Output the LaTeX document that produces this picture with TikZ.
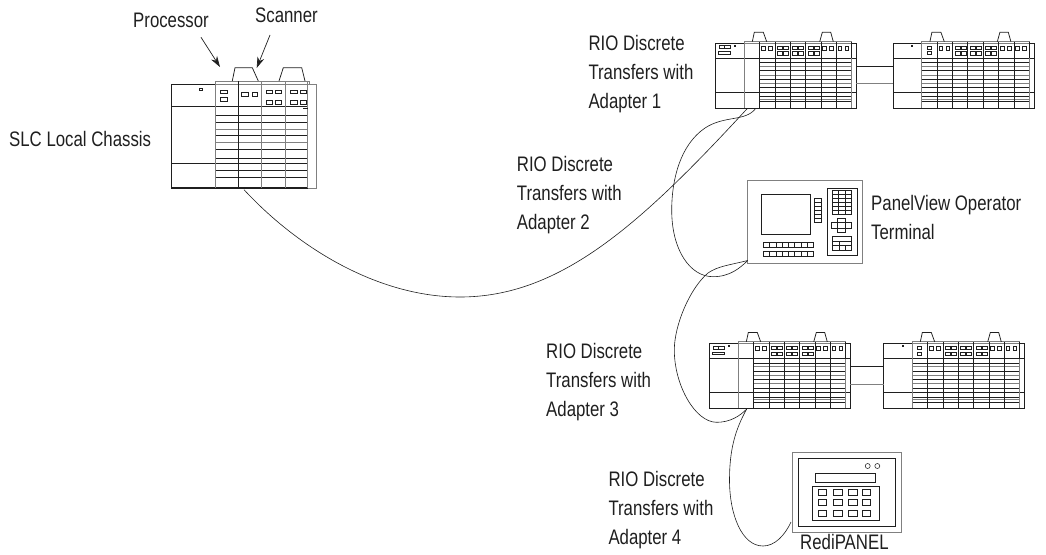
\documentclass[tikz,border=0pt]{standalone}
\usepackage{fontspec}
\setmainfont[FakeStretch=0.8]{Liberation Sans}
\usetikzlibrary{arrows.meta}
\definecolor{ink}{gray}{0.12}
\definecolor{mid}{gray}{0.5}
\newcommand{\plcunit}[3]{% x, y, variant 0 plain / 1 adapter
\begin{scope}[shift={(#1,#2)}]
  \draw[hw] (0,0) rectangle (140.7,64.6);
  \draw[hwg] (28.5,-1.6) rectangle (136,0);
  \draw[hw] (0,15) -- (140.7,15) (0,49) -- (140.7,49);
  \draw[hw] (36.6,-1.6) -- (38.6,-11) -- (47.6,-11) -- (51,-1.6);
  \draw[hw] (104,-1.6) -- (106.6,-11) -- (115,-11) -- (117.6,-1.6);
  \fill[ink] (17.8,1.8) rectangle (19.8,3.6);
  \ifnum#3=1
    \def\hstart{43.85}
    \draw[sq] (3.7,2.4) rectangle (14.3,5.4) (9,2.4) -- (9,5.4);
    \draw[sq] (2.7,8.4) rectangle (14.3,11);
  \else
    \def\hstart{28.5}
    \draw[sq] (33.5,2.7) rectangle (37.5,6);
    \draw[sq] (33.5,8.4) rectangle (37.5,11.4);
  \fi
  \foreach \yy in {19.4,27.4,36,44.4,53.4,58.4}
    \draw[hw] (\hstart,\yy) -- (136,\yy);
  \foreach \yy in {23.4,31.7,40,56}
    \draw[hwg] (\hstart,\yy) -- (136,\yy);
  \draw[hwg] (28.5,-1.6) -- (28.5,64.6);
  \foreach \ii in {1,...,7}
    \pgfmathsetmacro{\xx}{28.5+15.35*\ii}
    \draw[hw] (\xx,-1.6) -- (\xx,64.6);
  \draw[hwg] (136,15) -- (136,64.6);
  % two-button modules
  \foreach \ss in {1,5,6}{
    \pgfmathsetmacro{\xx}{28.5+15.35*\ss}
    \draw[sq] (\xx+1.7,3.2) rectangle (\xx+5.4,6.5);
    \draw[sq] (\xx+8.7,3.2) rectangle (\xx+12.4,6.5);
  }
  % four-button modules
  \foreach \ss in {2,3,4}{
    \pgfmathsetmacro{\xx}{28.5+15.35*\ss}
    \draw[sq] (\xx+2.3,2.7) rectangle (\xx+7.3,6);
    \draw[sq] (\xx+8.3,2.7) rectangle (\xx+13.3,6);
    \draw[sq] (\xx+2.3,8.4) rectangle (\xx+7.3,11.8);
    \draw[sq] (\xx+8.3,8.4) rectangle (\xx+13.3,11.8);
  }
\end{scope}}
\begin{document}
\begin{tikzpicture}[x=1pt,y=-1pt,
  hw/.style={draw=ink,line width=0.75pt},
  hwg/.style={draw=mid,line width=0.9pt},
  sq/.style={draw=ink,line width=0.55pt},
  cable/.style={draw=ink,line width=0.6pt},
  lbl/.style={anchor=north west,inner sep=0pt,align=left,text=ink,font=\fontsize{21}{28.8}\selectfont},
  one/.style={anchor=base west,inner sep=0pt,text=ink,font=\fontsize{21}{28.8}\selectfont},
  pointer/.style={draw=ink,line width=0.7pt,-{Stealth[length=11pt,width=7pt]}}]
\useasboundingbox (0,0) rectangle (1046,554);

% SLC local chassis
\draw[hwg] (307.7,84.7) -- (316,84.7) -- (316,188) -- (307.7,188);
\draw[hw] (171.7,84.7) rectangle (215,188);
\draw[hwg] (215,81) rectangle (309,84.7);
\draw[line width=1.1pt,ink] (171.7,188) -- (307.7,188);
\draw[hw] (171.7,106.7) -- (307.7,106.7) (171.7,163.3) -- (307.7,163.3);
\foreach \yy in {115,122.3,135.7,149.3,158.3,170,177.3} \draw[hw] (215,\yy) -- (307.7,\yy);
\foreach \yy in {129,142.7} \draw[hwg] (215,\yy) -- (307.7,\yy);
\draw[hwg] (215,81) -- (215,188);
\draw[hw] (238.3,81) -- (238.3,188);
\draw[hwg] (261.7,81) -- (261.7,188) (285,81) -- (285,188);
\draw[hwg] (307.7,81) -- (307.7,188);
\draw[hw] (232.3,81) -- (235,67.7) -- (252.3,67.7) -- (258.3,81);
\draw[hw] (279,81) -- (283.3,67.7) -- (301.7,67.7) -- (305,81);
\draw[sq] (199.3,88) rectangle (202.7,90.7);
\draw[sq] (220.7,90) rectangle (227.3,93.7) (220.7,97.7) rectangle (227.3,101.7);
\draw[sq] (241.7,92) rectangle (248.3,96) (252.3,92) rectangle (257.7,96);
\draw[sq] (266.7,90) rectangle (272.7,93.7) (275.3,90) rectangle (281.7,93.7);
\draw[sq] (266.7,100) rectangle (272.7,104) (275.3,100) rectangle (281.7,104);
\draw[sq] (290.7,90) rectangle (297,93.7) (300,90) rectangle (306,93.7);
\draw[sq] (290.7,100) rectangle (297,104) (300,100) rectangle (306,104);
\draw[hw] (303.3,108.3) -- (307.7,108.3);

% PLC chassis
\plcunit{715.7}{43.3}{1}
\plcunit{893.3}{43.3}{0}
\plcunit{709.7}{343.5}{1}
\plcunit{883.7}{343.5}{0}
\draw[hw] (856.4,66.3) -- (893.3,66.3);
\draw[hwg] (856.4,83.3) -- (893.3,83.3);
\draw[hw] (850.3,366) -- (883.7,366);
\draw[hwg] (850.3,384) -- (883.7,384);

% PanelView
\draw[hwg] (747.7,180.3) rectangle (862,263);
\draw[hw] (761.3,194.3) rectangle (810.7,234);
\draw[sq] (814,198.3) rectangle (821.7,222.7);
\foreach \yy in {202.4,206.5,210.5,214.6,218.6} \draw[sq] (814,\yy) -- (821.7,\yy);
\draw[hw] (827,188.3) rectangle (857.3,255.3);
\draw[sq] (832.7,190.3) rectangle (851.7,214.7);
\foreach \yy in {194.4,198.5,202.5,206.6,210.6} \draw[sq] (832.7,\yy) -- (851.7,\yy);
\foreach \xx in {838.3,845} \draw[sq] (\xx,190.3) -- (\xx,214.7);
\draw[sq] (831.3,222.3) rectangle (851,228.3);
\draw[sq,fill=white] (837.3,218) rectangle (845,232.7);
\draw[sq] (837.3,222.3) -- (845,222.3) (837.3,228.3) -- (845,228.3);
\draw[sq] (832.7,236.3) rectangle (851.7,250.7);
\draw[sq] (832.7,241.7) -- (851.7,241.7) (832.7,245.7) -- (851.7,245.7);
\draw[sq] (839.3,241.7) -- (839.3,250.7) (845,245.7) -- (845,250.7);
\draw[sq] (763.3,242.3) rectangle (813.3,247.3);
\draw[sq] (763.3,251.7) rectangle (813.3,256.7);
\foreach \ii in {1,...,7}{
  \pgfmathsetmacro{\xx}{763.3+6.25*\ii}
  \draw[sq] (\xx,242.3) -- (\xx,247.3) (\xx,251.7) -- (\xx,256.7);
}

% RediPANEL
\draw[hwg] (792.3,452.7) rectangle (901,532.3);
\draw[hw] (798.3,458.3) rectangle (895.7,526.7);
\draw[sq] (867.7,466) circle (2.5pt) (877.3,466) circle (2.5pt);
\draw[hw] (815,473.3) rectangle (875.3,482.3);
\draw[hw] (812.3,486.3) rectangle (879.3,520);
\foreach \xa/\xb in {818.3/826.7,833.3/842.3,848.7/857.3,862.3/870.7}
  \foreach \ya/\yb in {489.3/495.7,499.3/505.3,510.3/516.7}
    \draw[hw] (\xa,\ya) rectangle (\xb,\yb);

% Text
\node[lbl] (proc) at (133,12.5) {Processor};
\node[lbl] (scan) at (255,8) {Scanner};
\node[lbl] (slc) at (9,131) {SLC Local Chassis};
\node[lbl] (a1) at (588.3,35.5) {RIO Discrete\\Transfers with\\Adapter 1};
\node[lbl] (a2) at (516.7,156.5) {RIO Discrete\\Transfers with\\Adapter 2};
\node[lbl] (a3) at (546,343) {RIO Discrete\\Transfers with\\Adapter 3};
\node[lbl] (a4) at (608.3,471.5) {RIO Discrete\\Transfers with\\Adapter 4};
\node[lbl] (pv) at (871,195) {PanelView Operator\\Terminal};
\node[lbl] (redi) at (800,534.5) {RediPANEL};

% Pointers
\coordinate (pfrom) at (201,37.3);
\coordinate (pto) at (220,67);
\coordinate (sfrom) at (270,35);
\coordinate (sto) at (256.7,68);
\draw[pointer] (pfrom) -- (pto);
\draw[pointer] (sfrom) -- (sto);

% Cables
\coordinate (slcport) at (244,189.7);
\coordinate (busm) at (460,297);
\coordinate (a1p) at (747.3,108.5);
\coordinate (a1q) at (755.7,108.5);
\coordinate (pvp) at (747.7,260.5);
\coordinate (a3p) at (746.7,409);
\coordinate (rp) at (791,522);
\draw[cable] (slcport) .. controls (300,250) and (380,297) .. (busm)
   .. controls (560,297) and (640,225) .. (a1p);
\draw[cable] (a1q) .. controls (745,122) and (725,115) .. (705,128)
   .. controls (680,145) and (671.7,180) .. (671.7,210)
   .. controls (671.7,250) and (690,276.7) .. (713,276.7)
   .. controls (730,276.7) and (740,268) .. (pvp);
\draw[cable] (pvp) .. controls (730,265) and (718,266) .. (708,273)
   .. controls (690,288) and (674.3,325) .. (674.3,350)
   .. controls (674.3,385) and (695,422.3) .. (716.7,422.3)
   .. controls (730,422.3) and (740,416) .. (a3p);
\draw[cable] (a3p) .. controls (735,430) and (729.5,450) .. (729.5,480)
   .. controls (729.5,515) and (742,546) .. (763,546)
   .. controls (775,546) and (785,535) .. (rp);
\end{tikzpicture}
\end{document}
